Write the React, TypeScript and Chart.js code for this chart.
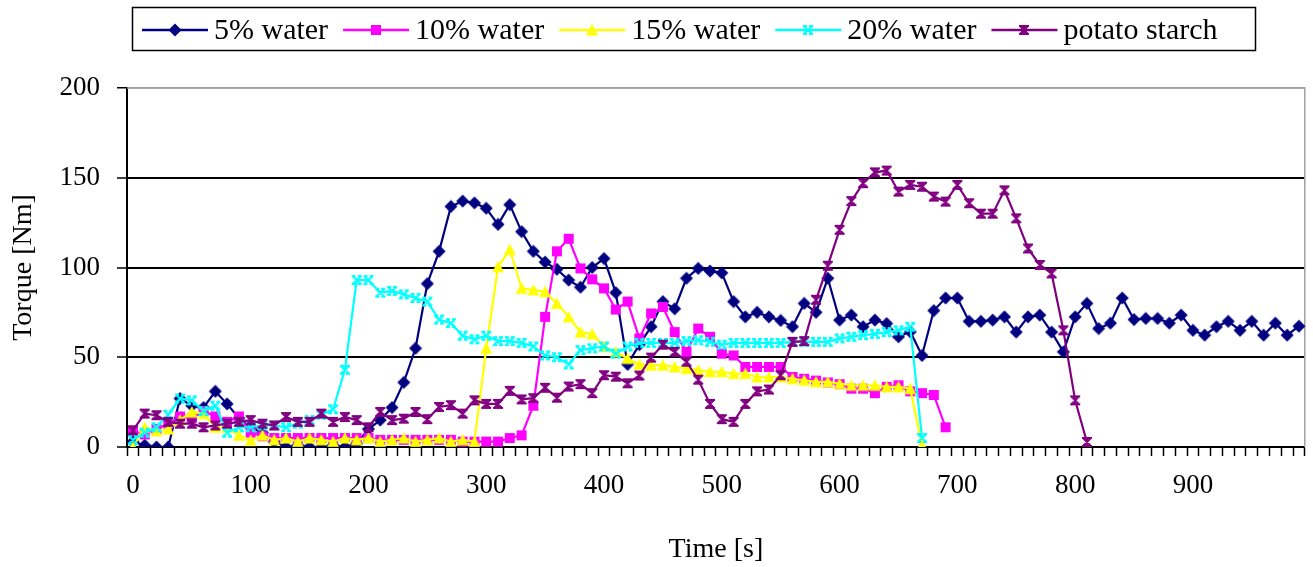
import React, { useEffect, useRef } from 'react';
import { Chart, registerables } from 'chart.js';

Chart.register(...registerables);

// ---- data ----
const times = [
  '0', '10', '20', '30', '40', '50', '60', '70', '80', '90',
  '100', '110', '120', '130', '140', '150', '160', '170', '180', '190',
  '200', '210', '220', '230', '240', '250', '260', '270', '280', '290',
  '300', '310', '320', '330', '340', '350', '360', '370', '380', '390',
  '400', '410', '420', '430', '440', '450', '460', '470', '480', '490',
  '500', '510', '520', '530', '540', '550', '560', '570', '580', '590',
  '600', '610', '620', '630', '640', '650', '660', '670', '680', '690',
  '700', '710', '720', '730', '740', '750', '760', '770', '780', '790',
  '800', '810', '820', '830', '840', '850', '860', '870', '880', '890',
  '900', '910', '920', '930', '940', '950', '960', '970', '980', '990',
];

const xTickLabels = ['0', '100', '200', '300', '400', '500', '600', '700', '800', '900'];
const yTicks = [0, 50, 100, 150, 200];

const water5 = [
  3, 1, 0, 0, 27, 23, 22, 31, 24, 16,
  11, 8, 3, 0, 1, 0, 0, 1, 0, 2,
  10, 15, 22, 36, 55, 91, 109, 134, 137, 136,
  133, 124, 135, 120, 109, 103, 99, 93, 89, 100,
  105, 86, 46, 57, 67, 81, 77, 94, 99.5, 98,
  97, 81, 72.5, 75, 72.5, 70.5, 67, 80, 75, 94,
  70.7, 73.5, 67, 70.7, 68.8, 61.4, 64.2, 51, 76, 83,
  83, 70, 70, 70.7, 72.5, 64, 72.5, 73.5, 64, 53,
  72.5, 80, 66, 69, 83, 71, 71.6, 71.6, 69, 73.5,
  65, 62.3, 67, 70, 65, 70, 62.3, 69, 62.3, 67.3,
];

const water10 = [
  9, 7, 10, 13, 17, 16, 20, 17, 14, 17,
  8, 6, 5, 5, 5, 5, 5, 5, 5, 5,
  5, 4, 4, 4, 4, 4, 4, 4, 3, 3,
  3, 3, 5, 6.5, 23, 72.5, 109, 116, 99.5, 93.4,
  88.4, 76.6, 81, 60.5, 74.4, 78, 64, 53, 66, 61.4,
  52, 51, 44.6, 44.6, 44.6, 44.6, 39, 38, 37, 36,
  35, 32.5, 32.5, 30, 33.5, 34.4, 31, 30, 29, 11,
];

const water15 = [
  0, 11, 9, 10, 15, 19.5, 18.6, 11, 11, 6.5,
  3.7, 6.5, 4, 5, 3, 5, 4, 3, 5, 4,
  5, 3, 4, 5, 3, 4, 5, 3, 4, 3,
  55, 100.4, 110, 88.4, 87.5, 86.5, 80, 72.5, 64, 63,
  56, 53, 49.3, 46, 45.6, 45.6, 44.6, 43.7, 42.8, 41.9,
  41.9, 40.9, 40.9, 39, 39, 39, 38, 37.2, 36.3, 36.3,
  35.3, 34.4, 34.4, 34.4, 33.5, 33.5, 32.5, 1,
];

const water20 = [
  4, 8, 11, 18, 27, 26, 20, 23, 8, 11,
  11, 12, 12, 11, 13, 15, 18, 21, 43, 93,
  93, 86, 87, 85, 83, 81, 71, 69, 62, 60,
  62, 59, 59, 58, 56, 51, 50, 46, 54, 55,
  56, 52, 56, 58, 58, 58, 58, 59, 59.5, 58.6,
  57, 58, 58, 58, 58, 58, 58.6, 58.6, 58.6, 58.6,
  60.5, 61.4, 62.3, 63, 64, 65, 67, 5,
];

const potato = [
  9.3, 18.6, 17.7, 14, 13, 13, 11, 12, 13, 14,
  15, 13, 12, 16.7, 14, 14, 18.6, 14, 16.7, 15,
  11, 19.5, 15, 15.8, 19.5, 15.5, 22.3, 23.3, 18.6, 26,
  24, 24, 31.3, 26.5, 27.2, 33, 27.5, 33.7, 35, 30,
  40, 39.2, 35.5, 39.8, 49.8, 57, 53, 47.5, 37.5, 24,
  15.5, 14, 24, 31, 32, 40, 58.6, 59, 82, 101,
  121, 137, 147, 153, 154, 142.3, 146, 145, 139.5, 136.7,
  146, 135.8, 130, 130, 143, 127.4, 110.6, 101.4, 96.7, 65,
  26, 2.8,
];

const seriesNames = ['5% water', '10% water', '15% water', '20% water', 'potato starch'];
const seriesColors = ['#000080', '#FF00FF', '#FFFF00', '#00FFFF', '#800080'];
const seriesMarkers = ['diamond', 'square', 'triangle', 'x', 'star'];

const FONT = '"Liberation Serif", "Times New Roman", serif';

function makeMarker(kind: string, color: string): HTMLCanvasElement {
  const c = document.createElement('canvas');
  c.width = 14;
  c.height = 14;
  const g = c.getContext('2d') as CanvasRenderingContext2D;
  g.fillStyle = color;
  g.strokeStyle = color;
  g.lineWidth = 2;
  g.lineCap = 'butt';
  if (kind === 'diamond') {
    g.beginPath();
    g.moveTo(7, 0.5);
    g.lineTo(13.5, 7);
    g.lineTo(7, 13.5);
    g.lineTo(0.5, 7);
    g.closePath();
    g.fill();
  } else if (kind === 'square') {
    g.fillRect(2, 2, 10, 10);
  } else if (kind === 'triangle') {
    g.beginPath();
    g.moveTo(7, 1);
    g.lineTo(13, 12.5);
    g.lineTo(1, 12.5);
    g.closePath();
    g.fill();
  } else if (kind === 'x') {
    g.beginPath();
    g.moveTo(2.5, 3); g.lineTo(11.5, 11);
    g.moveTo(11.5, 3); g.lineTo(2.5, 11);
    g.moveTo(2, 3); g.lineTo(6, 3);
    g.moveTo(8, 3); g.lineTo(12, 3);
    g.moveTo(2, 11); g.lineTo(6, 11);
    g.moveTo(8, 11); g.lineTo(12, 11);
    g.stroke();
  } else {
    g.beginPath();
    g.moveTo(2, 3); g.lineTo(12, 3);
    g.moveTo(2, 11); g.lineTo(12, 11);
    g.moveTo(7, 3); g.lineTo(7, 11);
    g.moveTo(3.5, 3.5); g.lineTo(10.5, 10.5);
    g.moveTo(10.5, 3.5); g.lineTo(3.5, 10.5);
    g.stroke();
  }
  return c;
}

const excelLegend = {
  id: 'excelLegend',
  afterDraw(chart: any) {
    const ctx = chart.ctx as CanvasRenderingContext2D;
    ctx.save();
    ctx.strokeStyle = '#000';
    ctx.lineWidth = 1.5;
    ctx.strokeRect(132.5, 7.5, 1123, 43);
    ctx.font = `30px ${FONT}`;
    ctx.textBaseline = 'middle';
    ctx.fillStyle = '#000';
    const cy = 30;
    let x = 142;
    chart.data.datasets.forEach((ds: any) => {
      ctx.strokeStyle = ds.borderColor;
      ctx.lineWidth = 2.5;
      ctx.beginPath();
      ctx.moveTo(x, cy);
      ctx.lineTo(x + 66, cy);
      ctx.stroke();
      const m = ds.pointStyle as HTMLCanvasElement;
      ctx.drawImage(m, Math.round(x + 33 - m.width / 2), Math.round(cy - m.height / 2));
      ctx.fillStyle = '#000';
      ctx.fillText(ds.label, x + 72, cy + 1);
      x += 72 + ctx.measureText(ds.label).width + 15;
    });
    ctx.restore();
  },
};

const plotBorder = {
  id: 'plotBorder',
  beforeDatasetsDraw(chart: any) {
    const { ctx, chartArea } = chart;
    ctx.save();
    ctx.strokeStyle = '#a0a0a0';
    ctx.lineWidth = 1.5;
    ctx.beginPath();
    ctx.moveTo(chartArea.left, chartArea.top);
    ctx.lineTo(chartArea.right, chartArea.top);
    ctx.lineTo(chartArea.right, chartArea.bottom);
    ctx.stroke();
    ctx.restore();
  },
};

export default function App() {
  const ref = useRef<HTMLCanvasElement | null>(null);

  useEffect(() => {
    document.body.style.margin = '0';
    const canvas = ref.current;
    if (!canvas) return;
    const allSeries = [water5, water10, water15, water20, potato];
    const datasets = allSeries.map((values, i) => ({
      label: seriesNames[i],
      data: values,
      borderColor: seriesColors[i],
      backgroundColor: seriesColors[i],
      borderWidth: 2.2,
      pointStyle: makeMarker(seriesMarkers[i], seriesColors[i]),
      pointRadius: 6,
      pointHoverRadius: 6,
      tension: 0,
      fill: false,
      order: 5 - i,
    }));

    const tickFont = { family: FONT, size: 27 };
    const chart = new Chart(canvas, {
      type: 'line',
      data: { labels: times, datasets },
      plugins: [excelLegend, plotBorder],
      options: {
        animation: false,
        responsive: false,
        events: [],
        layout: { padding: { top: 88, right: 6, bottom: 0, left: 0 } },
        plugins: {
          legend: { display: false },
          tooltip: { enabled: false },
        },
        scales: {
          x: {
            type: 'category',
            offset: true,
            grid: {
              offset: true,
              drawOnChartArea: false,
              drawTicks: true,
              tickLength: 9,
              tickColor: '#000',
              tickWidth: 1.5,
            },
            border: { display: true, color: '#000', width: 2 },
            ticks: {
              autoSkip: false,
              maxRotation: 0,
              minRotation: 0,
              padding: 14,
              color: '#000',
              font: tickFont,
              callback: (_v: any, i: number) => (xTickLabels.includes(times[i]) ? times[i] : ''),
            },
            title: {
              display: true,
              text: 'Time [s]',
              color: '#000',
              font: { family: FONT, size: 28 },
              padding: { top: 0, bottom: 1 },
            },
            afterFit: (s: any) => {
              s.height = 120;
            },
          },
          y: {
            type: 'linear',
            min: yTicks[0],
            max: yTicks[yTicks.length - 1],
            afterBuildTicks: (s: any) => {
              s.ticks = yTicks.map((v) => ({ value: v }));
            },
            grid: {
              color: (c: any) => (c.tick && c.tick.value === 200 ? '#a0a0a0' : '#000'),
              lineWidth: (c: any) => (c.tick && c.tick.value === 200 ? 1.5 : 2),
              drawTicks: true,
              tickLength: 10,
              tickColor: '#000',
              tickWidth: 1.5,
            },
            border: { display: true, color: '#000', width: 2 },
            ticks: {
              padding: 17,
              color: '#000',
              font: tickFont,
            },
            title: {
              display: true,
              text: 'Torque [Nm]',
              color: '#000',
              font: { family: FONT, size: 28 },
              padding: { top: 7, bottom: 0 },
            },
            afterFit: (s: any) => {
              s.width = 127;
            },
          },
        },
      } as any,
    });
    return () => chart.destroy();
  }, []);

  return (
    <div style={{ width: 1313, height: 567, background: '#fff' }}>
      <canvas ref={ref} width={1313} height={567} style={{ display: 'block' }} />
    </div>
  );
}
